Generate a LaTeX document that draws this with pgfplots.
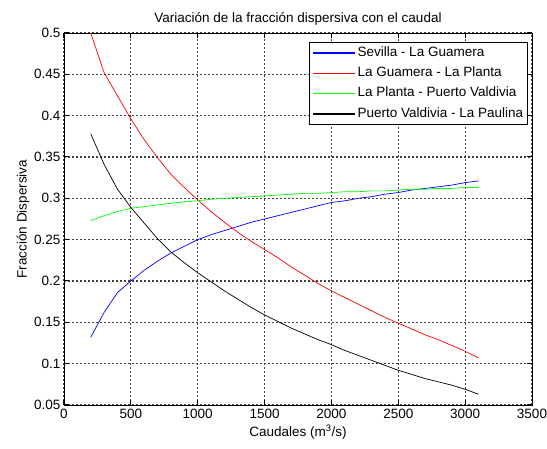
\documentclass[border=0pt]{standalone}
\usepackage{pgfplots}
\pgfplotsset{compat=1.18}
\usepackage{fontspec}
\setmainfont{Liberation Sans}
\pgfplotsset{/pgfplots/legend image code/.code={\draw[#1, line width=1.4pt] (0pt,0pt) -- (42pt,0pt);}}
\begin{document}
\begin{tikzpicture}[font=\fontsize{13.5}{16}\selectfont]
\begin{axis}[
  name=ax,
  scale only axis, width=468pt, height=372pt,
  xmin=0, xmax=3500, ymin=0.05, ymax=0.5,
  xtick={0,500,...,3500},
  ytick={0.05,0.1,0.15,0.2,0.25,0.3,0.35,0.4,0.45,0.5},
  yticklabels={0.05,0.1,0.15,0.2,0.25,0.3,0.35,0.4,0.45,0.5},
  /pgf/number format/assume math mode=true,
  /pgf/number format/set thousands separator={},
  tick align=inside, tick pos=both,
  major tick length=5pt,
  tick style={draw=black, line width=1pt},
  xmajorgrids=true, ymajorgrids=true,
  major grid style={draw=black!75, line width=1.1pt, dash pattern=on 1.6pt off 2.4pt},
  axis line style={black, line width=0.8pt},
  ticklabel style={font=\fontsize{13.5}{16}\selectfont},
  xticklabel style={yshift=-1pt},
  title={Variación de la fracción dispersiva con el caudal},
  title style={font=\fontsize{13.5}{16}\selectfont, yshift=-2pt},
  xlabel={Caudales (m\textsuperscript{3}/s)},
  ylabel={Fracción Dispersiva},
  label style={font=\fontsize{13.5}{16}\selectfont},
  xlabel style={yshift=1pt},
  ylabel style={yshift=-2pt},
  legend style={at={(1,1)}, xshift=-4pt, yshift=-9pt, anchor=north east,
    draw=black, line width=0.8pt, fill=white,
    font=\fontsize{13.5}{16}\selectfont, cells={anchor=west},
    inner xsep=3pt, inner ysep=3pt, row sep=4.8pt,
    nodes={text height=9.5pt, text depth=3pt, inner sep=1.5pt}},
]
\addplot[draw=blue, line width=0.7pt] coordinates {
(200,0.132)(300,0.162)(400,0.186)(500,0.200)(600,0.213)(700,0.224)(800,0.234)(900,0.242)(1000,0.250)(1100,0.256)(1200,0.261)(1300,0.266)(1400,0.271)(1500,0.275)(1600,0.279)(1700,0.283)(1800,0.287)(1900,0.291)(2000,0.295)(2100,0.297)(2200,0.300)(2300,0.302)(2400,0.305)(2500,0.307)(2600,0.310)(2700,0.312)(2800,0.314)(2900,0.316)(3000,0.319)(3100,0.321)};
\addlegendentry{Sevilla - La Guamera}
\addplot[draw=red, line width=0.7pt] coordinates {
(200,0.500)(300,0.452)(400,0.424)(500,0.396)(600,0.371)(700,0.349)(800,0.329)(900,0.313)(1000,0.298)(1100,0.284)(1200,0.271)(1300,0.259)(1400,0.248)(1500,0.238)(1600,0.228)(1700,0.217)(1800,0.207)(1900,0.197)(2000,0.188)(2100,0.180)(2200,0.172)(2300,0.164)(2400,0.156)(2500,0.149)(2600,0.142)(2700,0.135)(2800,0.129)(2900,0.122)(3000,0.115)(3100,0.107)};
\addlegendentry{La Guamera - La Planta}
\addplot[draw=green, line width=0.7pt] coordinates {
(200,0.273)(300,0.279)(400,0.284)(500,0.288)(600,0.290)(700,0.292)(800,0.294)(900,0.296)(1000,0.297)(1100,0.299)(1200,0.300)(1300,0.301)(1400,0.302)(1500,0.303)(1600,0.304)(1700,0.305)(1800,0.306)(1900,0.306)(2000,0.307)(2100,0.308)(2200,0.308)(2300,0.309)(2400,0.309)(2500,0.310)(2600,0.311)(2700,0.311)(2800,0.312)(2900,0.312)(3000,0.313)(3100,0.313)};
\addlegendentry{La Planta - Puerto Valdivia}
\addplot[draw=black, line width=0.7pt] coordinates {
(200,0.378)(300,0.341)(400,0.311)(500,0.289)(600,0.270)(700,0.251)(800,0.235)(900,0.222)(1000,0.210)(1100,0.199)(1200,0.188)(1300,0.178)(1400,0.168)(1500,0.159)(1600,0.151)(1700,0.143)(1800,0.136)(1900,0.129)(2000,0.123)(2100,0.116)(2200,0.110)(2300,0.104)(2400,0.098)(2500,0.092)(2600,0.087)(2700,0.082)(2800,0.078)(2900,0.074)(3000,0.069)(3100,0.063)};
\addlegendentry{Puerto Valdivia - La Paulina}
\end{axis}
\pgfresetboundingbox
\path[use as bounding box] ([shift={(-64pt,-44pt)}]ax.south west) rectangle ([shift={(483pt,405pt)}]ax.south west);
\end{tikzpicture}
\end{document}
